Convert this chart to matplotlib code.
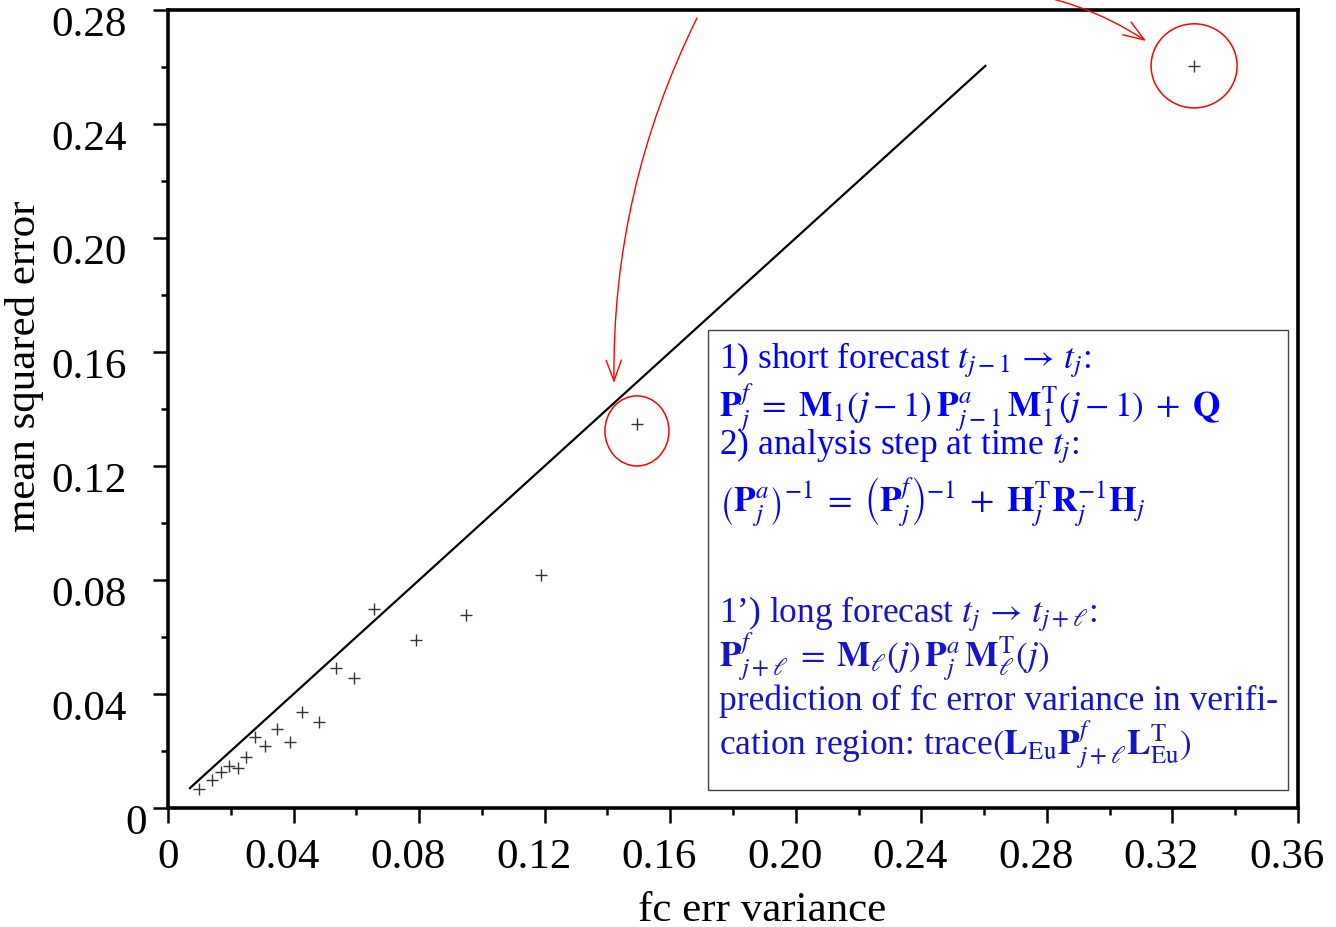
import matplotlib
matplotlib.use("Agg")
import matplotlib.pyplot as plt
import matplotlib.transforms as mtransforms
from matplotlib.patches import Ellipse, Rectangle

plt.rcParams["font.family"] = ["Liberation Serif", "DejaVu Serif"]
plt.rcParams["mathtext.fontset"] = "stix"

# data
fc_var = [0.0100, 0.0141, 0.0170, 0.0194, 0.0223, 0.0250, 0.0278, 0.0310,
          0.0348, 0.0389, 0.0426, 0.0480, 0.0535, 0.0593, 0.0657, 0.0789,
          0.0948, 0.1188, 0.1494, 0.3269]
mse = [0.0067, 0.0099, 0.0125, 0.0149, 0.0140, 0.0179, 0.0250, 0.0219,
       0.0277, 0.0233, 0.0338, 0.0302, 0.0492, 0.0457, 0.0699, 0.0589,
       0.0678, 0.0819, 0.1347, 0.2604]
diag_ends = [0.0070, 0.2604]
x_ticks = [0, 0.04, 0.08, 0.12, 0.16, 0.20, 0.24, 0.28, 0.32, 0.36]
x_labels = ["0", "0.04", "0.08", "0.12", "0.16", "0.20", "0.24", "0.28", "0.32", "0.36"]
y_ticks = [0, 0.04, 0.08, 0.12, 0.16, 0.20, 0.24, 0.28]
y_labels = ["0", "0.04", "0.08", "0.12", "0.16", "0.20", "0.24", "0.28"]
circled = [18, 19]

box_lines = [
    r"1) short forecast $t_{j-1}\,\rightarrow\,t_j$:",
    r"$\mathbf{P}_j^f\;=\;\mathbf{M}_1(j-1)\,\mathbf{P}^a_{j-1}\,\mathbf{M}_1^\mathrm{T}(j-1)\;+\;\mathbf{Q}$",
    r"2) analysis step at time $t_j$:",
    r"$\left(\mathbf{P}^a_j\right)^{-1}\;=\;\left(\mathbf{P}^f_j\right)^{-1}\;+\;\mathbf{H}_j^\mathrm{T}\mathbf{R}_j^{-1}\mathbf{H}_j$",
    r"1’) long forecast $t_j\,\rightarrow\,t_{j+\ell}$:",
    r"$\mathbf{P}^f_{j+\ell}\;=\;\mathbf{M}_\ell(j)\,\mathbf{P}^a_j\,\mathbf{M}^\mathrm{T}_\ell(j)$",
    r"prediction of fc error variance in verifi-",
    r"cation region: trace$(\mathbf{L}_\mathrm{Eu}\mathbf{P}^f_{j+\ell}\mathbf{L}^\mathrm{T}_\mathrm{Eu})$",
]
box_baselines = [368, 417, 454, 512, 622, 667, 710, 755]
box_colors = ["#0000ff"] * 4 + ["#1414c8"] * 4

W, H = 1336, 927
fig = plt.figure(figsize=(W / 100, H / 100), dpi=100)
ax = fig.add_axes([168 / W, 1 - 808 / H, 1130 / W, 798 / H])


def fx(px, py):
    return px / W, 1 - py / H


ax.plot(diag_ends, diag_ends, color="black", lw=1.6)
ax.plot(fc_var, mse, linestyle="none", marker="+", color="#333333",
        markersize=9, mew=1)

for i, (w, h) in zip(circled, [(0.0204, 0.0246), (0.0274, 0.0295)]):
    dy = -0.0024 if i == 18 else 0
    ax.add_patch(Ellipse((fc_var[i], mse[i] + dy), w, h, fill=False,
                         edgecolor="red", lw=1.1))

ax.set_xlim(0, 0.36)
ax.set_ylim(0, 0.28)
ax.set_xticks(x_ticks)
ax.set_xticklabels(x_labels)
ax.set_yticks(y_ticks)
ax.set_yticklabels(y_labels)
ax.set_xticks([t + 0.02 for t in x_ticks[:-1]], minor=True)
ax.set_yticks([t + 0.02 for t in y_ticks[:-1]], minor=True)
ax.tick_params(which="major", direction="out", length=11, width=1.8,
               labelsize=31)
ax.tick_params(which="minor", direction="out", length=5, width=1.8)
ax.tick_params(axis="x", pad=11)
ax.tick_params(axis="y", pad=4)
for s in ax.spines.values():
    s.set_linewidth(2.6)

# tick labels sit a bit off their ticks in the original
for lab in ax.get_xticklabels():
    if lab.get_text() != "0":
        lab.set_transform(lab.get_transform() +
                          mtransforms.ScaledTranslation(-11 / 100, 0, fig.dpi_scale_trans))
for lab in ax.get_yticklabels():
    dx = 0 if lab.get_text() == "0" else -20 / 100
    lab.set_transform(lab.get_transform() +
                      mtransforms.ScaledTranslation(dx, -11 / 100, fig.dpi_scale_trans))

ax.set_xlabel("fc err variance", fontsize=31)
ax.set_ylabel("mean squared error", fontsize=31)
ax.xaxis.set_label_coords(0.526, -0.105)
ax.yaxis.set_label_coords(-0.110, 0.553)

# formula box
x0, y0 = fx(708, 790)
fig.patches.append(Rectangle((x0, y0), 580 / W, 460 / H, fill=False,
                             edgecolor="#444444", lw=1,
                             transform=fig.transFigure))
for txt, yb, c in zip(box_lines, box_baselines, box_colors):
    fig.text(719 / W, 1 - yb / H, txt, color=c, fontsize=25.5,
             va="baseline", ha="left")

# red arrows
ax.annotate("", xy=(614, H - 383), xytext=(697, H - 18),
            xycoords="figure pixels", textcoords="figure pixels",
            arrowprops=dict(arrowstyle="->,head_length=0.6,head_width=0.22",
                            mutation_scale=25, color="red", lw=1,
                            shrinkA=0, shrinkB=0,
                            connectionstyle="arc3,rad=0.12"))
ax.annotate("", xy=(1146, H - 41), xytext=(1005, H + 10),
            xycoords="figure pixels", textcoords="figure pixels",
            arrowprops=dict(arrowstyle="->,head_length=0.6,head_width=0.22",
                            mutation_scale=25, color="red", lw=1,
                            shrinkA=0, shrinkB=0,
                            connectionstyle="arc3,rad=-0.12"))

fig.savefig("out.png", dpi=100)
